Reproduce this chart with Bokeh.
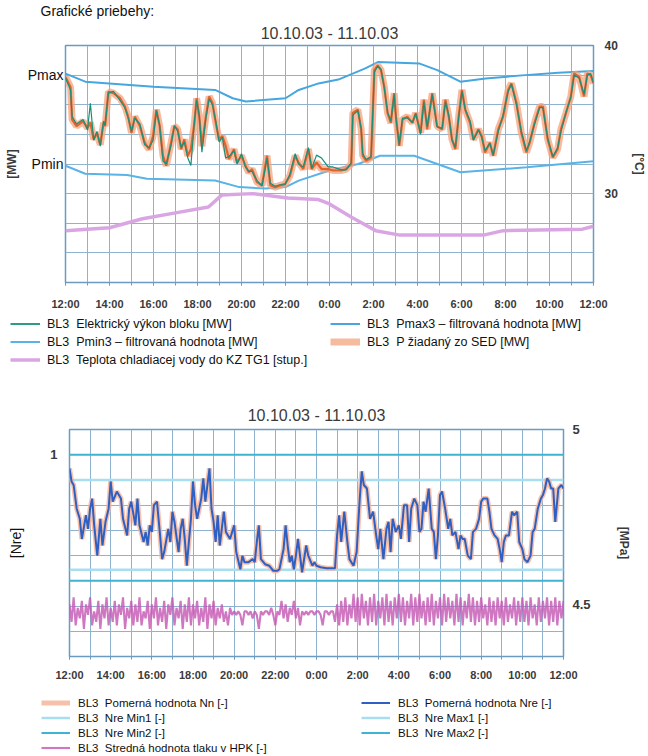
from bokeh.plotting import figure
from bokeh.models import Range1d, LinearAxis, FixedTicker, Legend, LegendItem, Title
from bokeh.embed import file_html
from bokeh.resources import INLINE

FONT = "Liberation Sans"
GRID = "#8fb2cf"
FRAME = "#6a9bc2"
TXT = "#3a3a3a"

# ---------------- common time axis (hours after 10.10.03 12:00) -------------
time_ticks = [0, 2, 4, 6, 8, 10, 12, 14, 16, 18, 20, 22, 24]
time_labels = ["12:00", "14:00", "16:00", "18:00", "20:00", "22:00", "0:00",
               "2:00", "4:00", "6:00", "8:00", "10:00", "12:00"]

# ---------------- chart 1 data ----------------
p_sed_h = [0.0, 0.23, 0.3, 0.5, 0.8, 1.0, 1.13, 1.28, 1.43, 1.58,
           1.73, 1.8, 1.95, 2.18, 2.48, 2.7, 2.85, 3.0, 3.15, 3.38,
           3.6, 3.8, 3.98, 4.13, 4.28, 4.43, 4.58, 4.8, 4.95, 5.1,
           5.26, 5.4, 5.56, 5.7, 5.86, 5.96, 6.08, 6.2, 6.38, 6.53,
           6.68, 6.83, 6.98, 7.13, 7.28, 7.43, 7.66, 7.8, 8.0, 8.18,
           8.33, 8.48, 8.7, 8.93, 9.16, 9.31, 9.53, 9.76, 9.98, 10.2,
           10.44, 10.59, 10.81, 11.04, 11.19, 11.41, 11.64, 11.94, 12.16, 12.54,
           12.76, 12.99, 13.06, 13.29, 13.44, 13.51, 13.66, 13.89, 14.04, 14.19,
           14.34, 14.49, 14.64, 14.79, 14.94, 15.02, 15.17, 15.32, 15.54, 15.77,
           15.92, 16.14, 16.29, 16.44, 16.67, 16.89, 17.12, 17.27, 17.42, 17.57,
           17.72, 17.87, 18.02, 18.17, 18.39, 18.54, 18.77, 18.92, 19.07, 19.29,
           19.44, 19.67, 19.89, 20.12, 20.27, 20.5, 20.72, 20.95, 21.1, 21.32,
           21.55, 21.7, 21.92, 22.15, 22.37, 22.52, 22.75, 22.97, 23.12, 23.35,
           23.57, 23.72, 23.87, 24.0]
p_sed_mw = [109.4, 106.0, 95.0, 92.8, 94.4, 92.2, 94.0, 88.3, 90.5, 86.5,
            93.9, 92.8, 104.4, 103.9, 102.2, 99.4, 96.0, 90.5, 96.0, 92.8,
            87.2, 85.0, 89.4, 98.3, 92.8, 82.8, 79.4, 87.2, 92.8, 91.7,
            85.0, 88.3, 82.8, 85.0, 93.9, 102.2, 96.0, 86.0, 96.0, 102.8,
            100.6, 93.9, 88.3, 89.4, 86.1, 81.7, 85.0, 80.5, 82.8, 79.4,
            77.2, 78.3, 73.9, 72.8, 82.8, 72.8, 72.2, 72.8, 73.3, 76.0,
            82.8, 80.5, 78.3, 85.0, 78.3, 80.5, 78.3, 78.3, 77.8, 77.8,
            78.3, 80.0, 97.2, 98.3, 91.7, 82.8, 81.1, 82.2, 111.7, 113.3,
            111.7, 106.1, 97.2, 93.9, 103.9, 96.0, 86.1, 95.0, 96.0, 93.9,
            97.2, 90.5, 101.7, 91.7, 103.9, 92.8, 91.7, 101.7, 96.0, 88.3,
            85.0, 96.0, 105.0, 98.3, 93.9, 88.3, 91.7, 89.4, 83.9, 87.2,
            82.8, 91.7, 96.0, 105.0, 107.2, 100.6, 90.5, 83.9, 87.2, 93.9,
            99.4, 99.4, 88.3, 82.2, 85.0, 91.7, 97.2, 102.8, 110.6, 109.4,
            102.8, 110.6, 110.0, 107.2]
vykon_mw = [109.0, 105.0, 96.0, 93.5, 95.0, 91.5, 100.5, 88.0, 91.0, 86.0,
            94.5, 93.0, 104.0, 104.5, 101.5, 99.0, 95.5, 91.0, 95.5, 93.5,
            86.5, 85.5, 88.0, 98.0, 93.0, 81.0, 80.0, 86.5, 93.0, 91.0,
            85.5, 87.5, 82.0, 79.5, 94.5, 101.5, 96.5, 84.0, 95.5, 102.0,
            100.0, 94.5, 87.5, 89.0, 82.0, 82.5, 84.5, 80.0, 83.5, 79.0,
            77.5, 77.5, 74.5, 72.5, 82.0, 73.5, 72.5, 73.0, 73.0, 76.5,
            83.5, 80.0, 79.0, 85.5, 78.5, 83.0, 82.0, 79.0, 79.0, 78.0,
            78.0, 80.5, 96.5, 98.0, 92.0, 83.5, 81.5, 82.5, 111.0, 113.0,
            112.0, 105.5, 97.5, 94.5, 103.5, 95.5, 86.5, 95.5, 95.5, 94.0,
            97.0, 90.0, 101.0, 92.5, 103.5, 92.5, 92.0, 101.0, 96.5, 88.0,
            85.5, 95.5, 104.5, 98.5, 94.5, 88.0, 91.5, 89.0, 84.5, 87.0,
            83.0, 91.0, 96.5, 104.5, 107.0, 100.0, 91.0, 84.5, 87.5, 93.5,
            99.0, 99.0, 88.5, 82.5, 85.5, 91.0, 97.5, 102.5, 110.0, 109.0,
            103.5, 110.0, 110.5, 107.5]
pmax_h = [0, 0.9, 4, 6.8, 7.6, 8.2, 10, 10.6, 11.5, 12.4, 13.6, 14.2, 16.1,
          16.9, 17.95, 19.1, 20.9, 22.4, 24]
pmax_mw = [110.5, 107.8, 106.1, 105.0, 102.2, 101.1, 102.2, 105.0, 107.2, 108.5,
           112.2, 114.4, 113.9, 111.7, 107.8, 108.9, 110.0, 110.8, 111.4]
pmin_h = [0, 0.9, 2.8, 3.7, 6.8, 7.9, 9.1, 10, 10.6, 12, 13.3, 14.3, 15.85,
          16.9, 17.95, 19, 20.95, 24]
pmin_mw = [79.4, 76.7, 76.3, 75.0, 74.4, 72.2, 71.7, 72.2, 74.4, 77.8, 80.0,
           82.8, 82.8, 80.0, 77.2, 77.8, 78.9, 80.9]
temp_h = [0, 2, 3.5, 5, 6.5, 7.1, 8.5, 10.1, 11.5, 12, 13, 14.1, 15.2, 19, 19.9, 23.5, 24]
temp_c = [27.5, 27.7, 28.3, 28.7, 29.1, 29.9, 30.0, 29.7, 29.6, 29.3, 28.4,
          27.5, 27.2, 27.2, 27.5, 27.6, 27.8]

# ---------------- chart 2 data ----------------
nre_h = [0.0, 0.1, 0.2, 0.35, 0.5, 0.6, 0.8, 0.9, 1.0, 1.1,
         1.2, 1.35, 1.5, 1.6, 1.75, 1.9, 2.0, 2.1, 2.3, 2.5,
         2.6, 2.8, 2.9, 3.0, 3.2, 3.3, 3.4, 3.6, 3.7, 3.8,
         3.9, 4.0, 4.1, 4.25, 4.4, 4.5, 4.6, 4.8, 4.9, 5.0,
         5.1, 5.3, 5.4, 5.5, 5.6, 5.7, 5.8, 5.9, 6.0, 6.1,
         6.2, 6.3, 6.4, 6.5, 6.6, 6.8, 6.9, 7.0, 7.1, 7.2,
         7.3, 7.5, 7.6, 7.8, 8.0, 8.1, 8.3, 8.4, 8.5, 8.7,
         8.9, 9.0, 9.1, 9.2, 9.3, 9.5, 9.7, 9.9, 10.1, 10.2,
         10.4, 10.5, 10.6, 10.7, 10.8, 10.9, 11.0, 11.1, 11.2, 11.3,
         11.5, 11.6, 11.8, 11.9, 12.0, 12.2, 12.5, 12.9, 13.0, 13.1,
         13.2, 13.35, 13.5, 13.6, 13.8, 13.95, 14.1, 14.2, 14.3, 14.45,
         14.6, 14.75, 14.9, 15.0, 15.1, 15.25, 15.4, 15.5, 15.6, 15.7,
         15.85, 16.0, 16.1, 16.25, 16.4, 16.5, 16.6, 16.75, 16.9, 17.0,
         17.1, 17.2, 17.3, 17.45, 17.6, 17.7, 17.8, 17.9, 18.0, 18.1,
         18.25, 18.4, 18.5, 18.6, 18.75, 18.9, 19.0, 19.1, 19.2, 19.35,
         19.5, 19.6, 19.75, 19.9, 20.0, 20.1, 20.3, 20.4, 20.5, 20.65,
         20.8, 20.9, 21.0, 21.1, 21.2, 21.35, 21.5, 21.6, 21.75, 21.85,
         22.0, 22.1, 22.25, 22.4, 22.5, 22.6, 22.75, 22.9, 23.0, 23.1,
         23.2, 23.3, 23.4, 23.5, 23.6, 23.75, 23.9, 24.0]
nre_val = [0.973, 0.947, 0.94, 0.893, 0.873, 0.833, 0.88, 0.853, 0.893, 0.913,
           0.86, 0.8, 0.873, 0.82, 0.867, 0.893, 0.947, 0.907, 0.927, 0.913,
           0.873, 0.84, 0.893, 0.907, 0.86, 0.913, 0.86, 0.827, 0.847, 0.82,
           0.86, 0.847, 0.9, 0.907, 0.84, 0.793, 0.807, 0.853, 0.827, 0.887,
           0.867, 0.807, 0.853, 0.873, 0.833, 0.78, 0.827, 0.873, 0.947, 0.9,
           0.873, 0.893, 0.913, 0.953, 0.907, 0.973, 0.893, 0.867, 0.827, 0.88,
           0.82, 0.887, 0.847, 0.833, 0.86, 0.807, 0.773, 0.8, 0.787, 0.787,
           0.793, 0.787, 0.827, 0.86, 0.793, 0.783, 0.78, 0.77, 0.77, 0.773,
           0.813, 0.86, 0.82, 0.787, 0.8, 0.773, 0.8, 0.833, 0.8, 0.767,
           0.82, 0.8, 0.78, 0.787, 0.78, 0.777, 0.775, 0.775, 0.84, 0.88,
           0.827, 0.887, 0.827, 0.793, 0.78, 0.807, 0.913, 0.967, 0.94, 0.933,
           0.873, 0.887, 0.84, 0.813, 0.853, 0.793, 0.853, 0.867, 0.807, 0.873,
           0.847, 0.86, 0.833, 0.9, 0.9, 0.827, 0.893, 0.913, 0.9, 0.847,
           0.853, 0.907, 0.887, 0.933, 0.853, 0.847, 0.793, 0.84, 0.92, 0.927,
           0.893, 0.853, 0.873, 0.84, 0.847, 0.813, 0.84, 0.833, 0.833, 0.8,
           0.793, 0.847, 0.853, 0.873, 0.907, 0.913, 0.913, 0.887, 0.853, 0.84,
           0.833, 0.813, 0.787, 0.827, 0.84, 0.84, 0.887, 0.88, 0.887, 0.827,
           0.813, 0.793, 0.787, 0.8, 0.847, 0.853, 0.893, 0.913, 0.92, 0.933,
           0.953, 0.947, 0.933, 0.933, 0.867, 0.933, 0.94, 0.933]
nn_val = nre_val  # Nn lies under Nre over the whole day
limit_h = [0, 24]
nre_max2 = [1.0, 1.0]
nre_max1 = [0.95, 0.95]
nre_min1 = [0.772, 0.772]
nre_min2 = [0.75, 0.75]
press_h = [round(0.1 * i, 1) for i in range(241)]
press_mpa = [4.50, 4.45, 4.52, 4.44, 4.49, 4.46, 4.51, 4.43, 4.50, 4.47,
             4.52, 4.44, 4.48, 4.45, 4.51, 4.43, 4.50, 4.46, 4.52, 4.44,
             4.49, 4.45, 4.51, 4.44, 4.50, 4.47, 4.52, 4.43, 4.49, 4.46,
             4.51, 4.44, 4.50, 4.45, 4.52, 4.44, 4.48, 4.46, 4.51, 4.43,
             4.50, 4.46, 4.52, 4.44, 4.49, 4.45, 4.51, 4.43, 4.50, 4.47,
             4.52, 4.44, 4.49, 4.46, 4.51, 4.43, 4.50, 4.45, 4.52, 4.44,
             4.50, 4.46, 4.51, 4.44, 4.49, 4.45, 4.52, 4.43, 4.50, 4.46,
             4.51, 4.44, 4.49, 4.46, 4.50, 4.45, 4.48, 4.44, 4.49, 4.47,
             4.48, 4.47, 4.48, 4.47, 4.44, 4.48, 4.48, 4.47, 4.48, 4.46,
             4.48, 4.47, 4.43, 4.48, 4.47, 4.48, 4.48, 4.47, 4.49, 4.47,
             4.44, 4.48, 4.47, 4.51, 4.46, 4.50, 4.45, 4.49, 4.47, 4.51,
             4.46, 4.49, 4.44, 4.48, 4.47, 4.48, 4.47, 4.48, 4.48, 4.47,
             4.48, 4.48, 4.47, 4.44, 4.48, 4.48, 4.47, 4.48, 4.48, 4.45,
             4.50, 4.44, 4.51, 4.45, 4.52, 4.44, 4.50, 4.46, 4.53, 4.45,
             4.52, 4.44, 4.53, 4.46, 4.51, 4.44, 4.52, 4.45, 4.53, 4.44,
             4.51, 4.46, 4.52, 4.44, 4.53, 4.45, 4.51, 4.44, 4.52, 4.46,
             4.53, 4.45, 4.52, 4.44, 4.51, 4.46, 4.53, 4.44, 4.52, 4.45,
             4.53, 4.46, 4.51, 4.44, 4.52, 4.45, 4.53, 4.44, 4.51, 4.46,
             4.52, 4.44, 4.53, 4.45, 4.52, 4.46, 4.51, 4.44, 4.53, 4.45,
             4.52, 4.44, 4.51, 4.46, 4.53, 4.45, 4.52, 4.44, 4.51, 4.45,
             4.52, 4.46, 4.50, 4.44, 4.52, 4.45, 4.51, 4.44, 4.52, 4.46,
             4.51, 4.44, 4.52, 4.45, 4.50, 4.46, 4.52, 4.44, 4.51, 4.45,
             4.52, 4.45, 4.51, 4.44, 4.52, 4.46, 4.50, 4.44, 4.52, 4.45,
             4.51, 4.46, 4.52, 4.44, 4.51, 4.45, 4.52, 4.44, 4.51, 4.46,
             4.51]

# ---------------- series styles (shared by plot lines and legend keys) -------------
ST_TEMP = dict(line_color="#d9a6e3", line_width=3.5)
ST_PMIN = dict(line_color="#5ab3e6", line_width=2)
ST_PMAX = dict(line_color="#45a6e0", line_width=2)
ST_SEDH = dict(line_color="#f3a47f", line_width=7, line_alpha=0.75)
ST_VYK = dict(line_color="#15917b", line_width=1.8)
ST_MIN1 = dict(line_color="#a8def0", line_width=2.5)
ST_MIN2 = dict(line_color="#3fb3cf", line_width=2)
ST_PRESS = dict(line_color="#c455b3", line_width=2.1, line_alpha=0.8)
ST_NN = dict(line_color="#f6b59c", line_width=5, line_alpha=0.85)
ST_NRE = dict(line_color="#2d60c2", line_width=2)


def style_common(p, x_standoff, date_text, date_standoff):
    p.outline_line_color = FRAME
    p.outline_line_width = 1.5
    p.background_fill_color = "white"
    p.border_fill_color = "white"
    ax = p.below[0]
    ax.ticker = FixedTicker(ticks=time_ticks, minor_ticks=list(range(25)))
    ax.major_label_overrides = dict(zip(time_ticks, time_labels))
    ax.axis_line_color = None
    ax.major_tick_line_color = FRAME
    ax.minor_tick_line_color = FRAME
    ax.major_tick_in = 0
    ax.major_tick_out = 3
    ax.minor_tick_in = 0
    ax.minor_tick_out = 3
    ax.major_label_standoff = x_standoff
    ax.major_label_text_font = FONT
    ax.major_label_text_font_size = "11px"
    ax.major_label_text_font_style = "bold"
    ax.major_label_text_color = TXT
    p.xgrid.ticker = FixedTicker(ticks=list(range(25)))
    p.xgrid.grid_line_color = GRID
    p.ygrid.grid_line_color = GRID
    p.add_layout(Title(text=date_text, align="center", standoff=date_standoff,
                       text_font=FONT, text_font_size="16px", text_font_style="normal",
                       text_color=TXT), "above")


def style_side_axis(ax, standoff, lab_size, lab_style, lab_color,
                    title_size, title_style, title_color, title_standoff):
    ax.axis_line_color = None
    ax.major_tick_line_color = None
    ax.minor_tick_line_color = None
    ax.major_tick_out = 0
    ax.major_tick_in = 0
    ax.minor_tick_out = 0
    ax.minor_tick_in = 0
    ax.major_label_standoff = standoff
    ax.major_label_text_font = FONT
    ax.major_label_text_font_size = lab_size
    ax.major_label_text_font_style = lab_style
    ax.major_label_text_color = lab_color
    ax.axis_label_text_font = FONT
    ax.axis_label_text_font_size = title_size
    ax.axis_label_text_font_style = title_style
    ax.axis_label_text_color = title_color
    ax.axis_label_standoff = title_standoff


def legend_panel(height, entries, loc, glyph_w, row_h, lab_w, standoff, spacing, size):
    lp = figure(width=648, height=height, output_backend="svg", toolbar_location=None,
                x_range=Range1d(0, 1), y_range=Range1d(0, 1),
                x_axis_type=None, y_axis_type=None,
                min_border_left=0, min_border_right=0, min_border_top=0,
                min_border_bottom=0)
    lp.outline_line_color = None
    lp.background_fill_color = "white"
    lp.border_fill_color = "white"
    items = []
    for label, styles in entries:
        # key glyphs only: their points lie outside this panel's visible range
        rs = [lp.line([5, 6], [5, 6], **st) for st in styles]
        items.append(LegendItem(label=label, renderers=rs))
    lp.add_layout(Legend(items=items, location=loc, orientation="horizontal", ncols=2,
                         glyph_width=glyph_w, glyph_height=row_h, label_height=row_h,
                         label_width=lab_w, label_standoff=standoff, spacing=spacing,
                         padding=0, margin=0, border_line_color=None,
                         background_fill_alpha=0, label_text_font=FONT,
                         label_text_font_size=size, label_text_color="#111111"))
    return lp


# ======================= chart 1 =======================
p1 = figure(width=648, height=312, output_backend="svg", toolbar_location=None,
            x_range=Range1d(0, 24), y_range=Range1d(40, 120),
            min_border_left=65, min_border_right=50, min_border_top=45,
            min_border_bottom=30, title="Grafické priebehy:")
p1.extra_y_ranges = {"temp": Range1d(24, 40)}
p1.title.align = "left"
p1.title.offset = -25
p1.title.standoff = 0
p1.title.text_font = FONT
p1.title.text_font_size = "14px"
p1.title.text_font_style = "normal"
p1.title.text_color = "#111111"
style_common(p1, 12, "10.10.03 - 11.10.03", 8)
ly = p1.left[0]
ly.ticker = FixedTicker(ticks=[80, 110])
ly.major_label_overrides = {80: "Pmin", 110: "Pmax"}
ly.axis_label = "[MW]"
style_side_axis(ly, 2, "14px", "normal", "#111111", "12px", "bold", TXT, 6)
p1.ygrid.ticker = FixedTicker(ticks=[50, 60, 70, 80, 90, 100, 110])
ry = LinearAxis(y_range_name="temp", ticker=FixedTicker(ticks=[30, 40]), axis_label="[°C]")
style_side_axis(ry, 11, "12px", "bold", TXT, "12px", "bold", TXT, 11)
p1.add_layout(ry, "right")

p1.line(temp_h, temp_c, y_range_name="temp", **ST_TEMP)
p1.line(pmin_h, pmin_mw, **ST_PMIN)
p1.line(pmax_h, pmax_mw, **ST_PMAX)
p1.line(p_sed_h, p_sed_mw, **ST_SEDH)
p1.line(p_sed_h, p_sed_mw, line_color="#e4632c", line_width=2.2)
p1.line(p_sed_h, vykon_mw, line_color="#15917b", line_width=1.2)

l1 = legend_panel(60, [
    ("BL3  Elektrický výkon bloku [MW]", [ST_VYK]),
    ("BL3  Pmax3 – filtrovaná hodnota [MW]", [ST_PMAX]),
    ("BL3  Pmin3 – filtrovaná hodnota [MW]", [ST_PMIN]),
    ("BL3  P žiadaný zo SED [MW]", [ST_SEDH]),
    ("BL3  Teplota chladiacej vody do KZ TG1 [stup.]", [ST_TEMP]),
], (10, 5), 30, 15, 280, 7, 3, "12.5px")

# ======================= chart 2 =======================
p2 = figure(width=648, height=313, output_backend="svg", toolbar_location=None,
            x_range=Range1d(0, 24), y_range=Range1d(0.6, 1.05),
            min_border_left=69, min_border_right=85, min_border_top=57,
            min_border_bottom=29)
p2.extra_y_ranges = {"mpa": Range1d(4.351, 5.0)}
style_common(p2, 9, "10.10.03 - 11.10.03", 11)
ly2 = p2.left[0]
ly2.ticker = FixedTicker(ticks=[1.0])
ly2.major_label_overrides = {1: "1"}
ly2.axis_label = "[Nre]"
style_side_axis(ly2, 12, "13px", "bold", TXT, "14px", "normal", "#111111", 23)
p2.ygrid.ticker = FixedTicker(ticks=[0.65, 0.7, 0.75, 0.8, 0.85, 0.9, 0.95, 1.0])
ry2 = LinearAxis(y_range_name="mpa", ticker=FixedTicker(ticks=[4.5, 5]), axis_label="[MPa]")
ry2.major_label_overrides = {4.5: "4.5", 5: "5"}
style_side_axis(ry2, 9, "13px", "bold", TXT, "12px", "bold", TXT, 23)
p2.add_layout(ry2, "right")

p2.line(limit_h, nre_min1, **ST_MIN1)
p2.line(limit_h, nre_max1, **ST_MIN1)
p2.line(limit_h, nre_min2, **ST_MIN2)
p2.line(limit_h, nre_max2, **ST_MIN2)
p2.line(press_h, press_mpa, y_range_name="mpa", **ST_PRESS)
p2.line(nre_h, nn_val, **ST_NN)
p2.line(nre_h, nre_val, **ST_NRE)

l2 = legend_panel(71, [
    ("BL3  Pomerná hodnota Nn [-]", [ST_NN]),
    ("BL3  Pomerná hodnota Nre [-]", [ST_NRE]),
    ("BL3  Nre Min1 [-]", [ST_MIN1]),
    ("BL3  Nre Max1 [-]", [ST_MIN1]),
    ("BL3  Nre Min2 [-]", [ST_MIN2]),
    ("BL3  Nre Max2 [-]", [ST_MIN2]),
    ("BL3  Stredná hodnota tlaku v HPK [-]", [ST_PRESS]),
], (41, 2), 29, 13, 281, 8, 2, "11.5px")

open("out.html", "w").write(file_html([p1, l1, p2, l2], INLINE))
